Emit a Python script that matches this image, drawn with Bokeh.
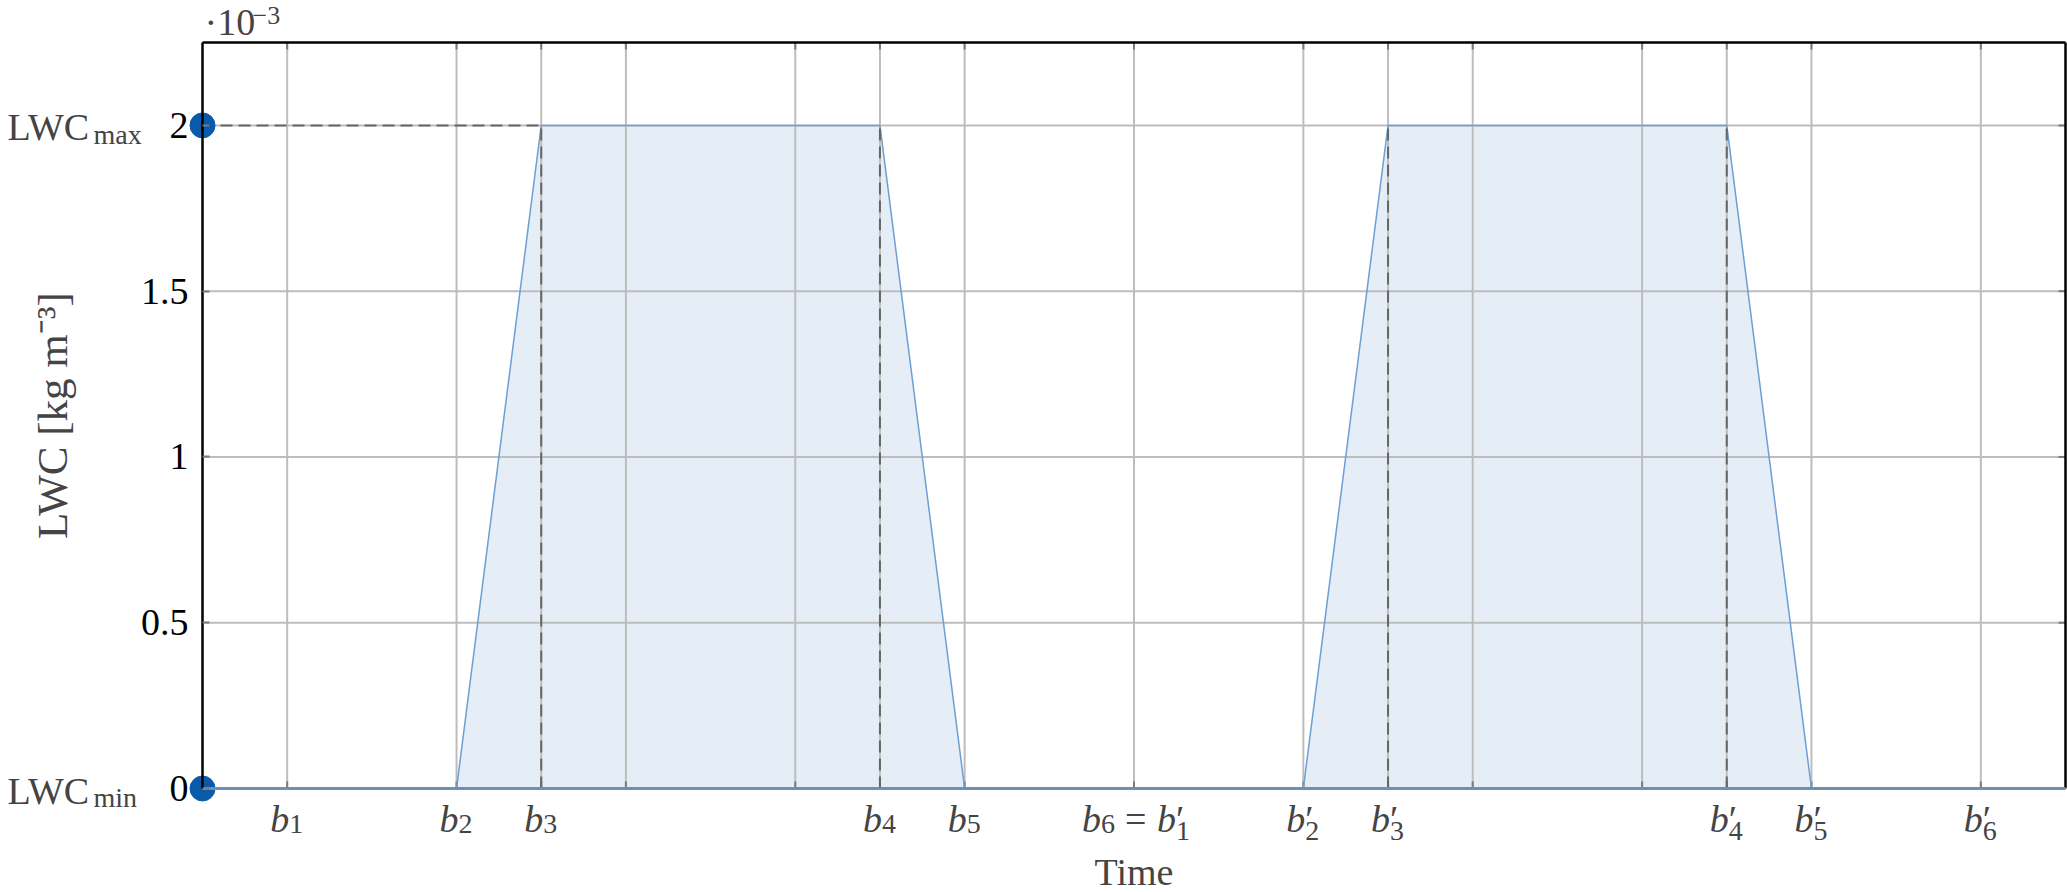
import math
from bokeh.plotting import figure
from bokeh.models import Range1d, FixedTicker, Label
from bokeh.embed import file_html
from bokeh.resources import INLINE

# ---- data (LWC in units of 1e-3 kg m^-3) ----
time = [0, 3, 4, 8, 9, 13, 14, 18, 19, 22]
lwc = [0, 0, 2, 2, 0, 0, 2, 2, 0, 0]
grid_x = [1, 3, 4, 5, 7, 8, 9, 11, 13, 14, 15, 17, 18, 19, 21]
y_ticks = [0, 0.5, 1, 1.5, 2]
y_tick_labels = ["0", "0.5", "1", "1.5", "2"]
label_x = [1, 3, 4, 8, 9, 13, 14, 18, 19, 21]
label_sub = ["1", "2", "3", "4", "5", "2", "3", "4", "5", "6"]
label_prime = [False, False, False, False, False, True, True, True, True, True]
shared_x = 11          # b6 = b'1
lwc_levels = [0, 2]
lwc_level_names = ["min", "max"]
drop_x = [4, 8, 14, 18]
drop_top = 2
hline_max_end = 4
hline_min_end = 1
X_LO, X_HI = 0, 22
Y_LO, Y_HI = 0, 2.25

# ---- layout (pixels) ----
W, H = 2067, 892
F_LEFT, F_RIGHT, F_TOP, F_BOTTOM = 202, 2065, 42, 788
pxx = (F_RIGHT - F_LEFT) / (X_HI - X_LO)
pxy = (F_BOTTOM - F_TOP) / (Y_HI - Y_LO)
xr = Range1d(X_LO - F_LEFT / pxx, X_HI + (W - F_RIGHT) / pxx)
yr = Range1d(Y_LO - (H - F_BOTTOM) / pxy, Y_HI + F_TOP / pxy)

FONT = "Liberation Serif"
FS = 38
SFS = 28
GRID = "#bdbdbd"
TICK = "#7a7a7a"
DY = 11  # baseline correction for alphabetic labels

p = figure(width=W, height=H, output_backend="svg", toolbar_location=None,
           x_range=xr, y_range=yr, min_border=0)
p.outline_line_color = None
p.border_fill_color = "white"
p.background_fill_color = "white"
p.xgrid.visible = False
p.ygrid.visible = False

# bottom axis (line only)
p.xaxis.fixed_location = Y_LO
p.xaxis.bounds = (X_LO, X_HI)
p.xaxis.ticker = FixedTicker(ticks=[])
p.xaxis.axis_line_color = "#6f8fb5"
p.xaxis.axis_line_width = 3
p.xaxis.minor_tick_line_color = None

# left axis with numeric tick labels
p.yaxis.fixed_location = X_LO
p.yaxis.bounds = (Y_LO, Y_HI)
p.yaxis.ticker = FixedTicker(ticks=y_ticks)
p.yaxis.major_label_overrides = {t: s for t, s in zip(y_ticks, y_tick_labels)}
p.yaxis.major_label_text_font = FONT
p.yaxis.major_label_text_font_size = f"{FS}px"
p.yaxis.major_label_text_color = "black"
p.yaxis.major_label_standoff = 14
p.yaxis.axis_line_color = "black"
p.yaxis.axis_line_width = 2.5
p.yaxis.major_tick_in = 7
p.yaxis.major_tick_out = 0
p.yaxis.major_tick_line_color = TICK
p.yaxis.major_tick_line_width = 2
p.yaxis.minor_tick_line_color = None

# fill under the profile
p.varea(x=time, y1=[Y_LO] * len(time), y2=lwc, fill_color="#e5eef7")

# grid lines
p.segment(x0=grid_x, y0=[Y_LO] * len(grid_x), x1=grid_x, y1=[Y_HI] * len(grid_x),
          line_color=GRID, line_width=2)
yg = [t for t in y_ticks if t != Y_LO]
p.segment(x0=[X_LO] * len(yg), y0=yg, x1=[X_HI] * len(yg), y1=yg,
          line_color=GRID, line_width=2)

# inward ticks on bottom, top and right
tx, ty = 7 / pxx, 7 / pxy
p.segment(x0=grid_x, y0=[Y_LO] * len(grid_x), x1=grid_x, y1=[Y_LO + ty] * len(grid_x),
          line_color=TICK, line_width=2)
p.segment(x0=grid_x, y0=[Y_HI] * len(grid_x), x1=grid_x, y1=[Y_HI - ty] * len(grid_x),
          line_color=TICK, line_width=2)
p.segment(x0=[X_HI] * len(yg), y0=yg, x1=[X_HI - tx] * len(yg), y1=yg,
          line_color=TICK, line_width=2)

# top / right frame lines
p.segment(x0=[X_LO, X_HI], y0=[Y_HI, Y_LO], x1=[X_HI, X_HI], y1=[Y_HI, Y_HI],
          line_color="black", line_width=2.5)

# profile line
p.line(time, lwc, line_color="#6c9fd3", line_width=1.5)

# dashed guides
p.segment(x0=[X_LO], y0=[drop_top], x1=[hline_max_end], y1=[drop_top],
          line_color="#666666", line_width=2, line_dash="12 6")
p.segment(x0=[X_LO], y0=[Y_LO], x1=[hline_min_end], y1=[Y_LO],
          line_color="#777777", line_width=2, line_dash="12 6")
p.segment(x0=drop_x, y0=[Y_LO] * len(drop_x), x1=drop_x, y1=[drop_top] * len(drop_x),
          line_color="#666666", line_width=2, line_dash="12 6")

# level markers on the axis
p.scatter(x=[X_LO] * len(lwc_levels), y=lwc_levels, size=25, fill_color="#0a5aaa",
          line_color="#0a5aaa")

# LWC_min / LWC_max labels
for lv, nm in zip(lwc_levels, lwc_level_names):
    p.add_layout(Label(x=X_LO, y=lv, x_offset=-195, y_offset=-13 + DY, text="LWC",
                       text_font=FONT, text_font_size=f"{FS}px",
                       text_baseline="alphabetic"))
    p.add_layout(Label(x=X_LO, y=lv, x_offset=-109, y_offset=-20 + DY, text=nm,
                       text_font=FONT, text_font_size=f"{SFS}px",
                       text_baseline="alphabetic"))

# scale note ·10^-3
p.add_layout(Label(x=X_LO, y=Y_HI, x_offset=2, y_offset=10 + DY, text="·10",
                   text_font=FONT, text_font_size=f"{FS}px", text_baseline="alphabetic"))
p.add_layout(Label(x=X_LO, y=Y_HI, x_offset=50, y_offset=16 + DY, text="−3",
                   text_font=FONT, text_font_size="26px", text_baseline="alphabetic"))

# axis titles
p.add_layout(Label(x=(X_LO + X_HI) / 2, y=Y_LO, y_offset=-94 + DY, text="Time",
                   text_font=FONT, text_font_size=f"{FS}px", text_align="center",
                   text_baseline="alphabetic"))
p.add_layout(Label(x=X_LO, y=(Y_LO + Y_HI) / 2, x_offset=-150, text="LWC [kg m⁻³]",
                   text_font=FONT, text_font_size="43px", text_align="center",
                   text_baseline="middle", angle=math.pi / 2))

# x tick labels b_k / b'_k
B_BASE = -41 + DY


def tick_label(xv, sub, prime, left=-17):
    p.add_layout(Label(x=xv, y=Y_LO, x_offset=left, y_offset=B_BASE, text="b",
                       text_font=FONT, text_font_size=f"{FS}px",
                       text_font_style="italic", text_baseline="alphabetic"))
    if prime:
        p.add_layout(Label(x=xv, y=Y_LO, x_offset=left + 19, y_offset=B_BASE,
                           text="′", text_font=FONT, text_font_size=f"{FS}px",
                           text_baseline="alphabetic"))
    p.add_layout(Label(x=xv, y=Y_LO, x_offset=left + 19,
                       y_offset=B_BASE - (12 if prime else 5), text=sub,
                       text_font=FONT, text_font_size=f"{SFS}px",
                       text_baseline="alphabetic"))


for xv, sub, pr in zip(label_x, label_sub, label_prime):
    tick_label(xv, sub, pr)

tick_label(shared_x, "6", False, left=-52)
p.add_layout(Label(x=shared_x, y=Y_LO, x_offset=-9, y_offset=B_BASE, text="=",
                   text_font=FONT, text_font_size=f"{FS}px", text_baseline="alphabetic"))
tick_label(shared_x, "1", True, left=23)

open("out.html", "w").write(file_html(p, INLINE))
